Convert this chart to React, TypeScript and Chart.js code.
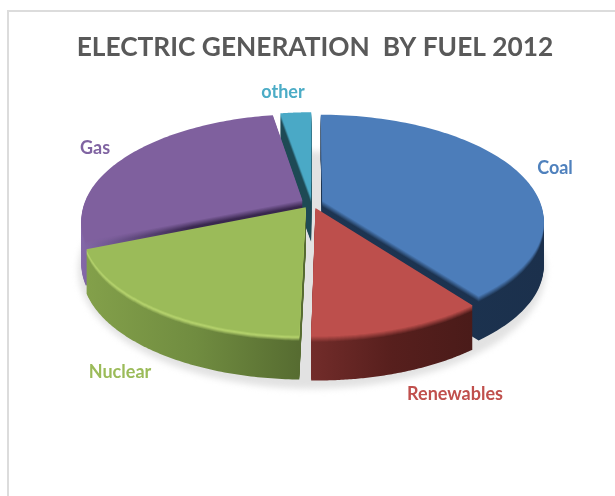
import React, { useEffect, useRef } from "react";
import { Chart, registerables } from "chart.js";

Chart.register(...registerables);

const categories = ["Coal", "Renewables", "Nuclear", "Gas", "other"];
const shares = [39.6, 10.7, 18.6, 28.4, 2.7];

const faceColors = ["#4c7dba", "#bd4f4c", "#9bbb59", "#7f609e", "#4aa9c6"];
const labelColors = ["#4f81bd", "#c0504d", "#9bbb59", "#8064a2", "#4bacc6"];
// Side wall colours, running from the left of a slice to its right.
const wallStops = [
  ["#1d3552", "#1c3350", "#1b304c"],
  ["#722c2a", "#571f1d", "#4a1b19"],
  ["#83a04a", "#708c40", "#556a30"],
  ["#8468a8", "#3a2850", "#38264d"],
  ["#1e4a55", "#1e4a55", "#1e4a55"],
];
// Rim tone between the top face and the wall; empty means a plain fade.
const rimColors = ["", "", "#b8d56f", "", ""];
// Painted from the back of the pie to the front.
const paintOrder = [4, 3, 0, 2, 1];

const labelPlaces = [
  { x: 555, y: 168 },
  { x: 455, y: 394 },
  { x: 120, y: 372 },
  { x: 95, y: 148 },
  { x: 283, y: 92 },
];

const CENTER_X = 312;
const CENTER_Y = 203;
const RADIUS_X = 218;
const RADIUS_Y = 103;
const PERSPECTIVE = 0.183;
const DEPTH = 44;
const RIM = 6;
const EXPLODE_SCALE = 0.0072;

type Pt = [number, number];

const project = (u: number, v: number): Pt => {
  const k = 1 / (1 - PERSPECTIVE * v);
  return [CENTER_X + RADIUS_X * u * k, CENTER_Y + RADIUS_Y * v * k];
};

const parse = (hex: string) => [1, 3, 5].map((i) => parseInt(hex.slice(i, i + 2), 16));
const mix = (a: string, b: string, t: number) => {
  const pa = parse(a);
  const pb = parse(b);
  const to = (c: number) => Math.round(c).toString(16).padStart(2, "0");
  return "#" + pa.map((c, i) => to(c + (pb[i] - c) * t)).join("");
};

const tracePath = (ctx: CanvasRenderingContext2D, pts: Pt[], dy: number) => {
  ctx.beginPath();
  pts.forEach(([x, y], i) => (i ? ctx.lineTo(x, y + dy) : ctx.moveTo(x, y + dy)));
  ctx.closePath();
};

const pie3d = {
  id: "pie3d",
  beforeDatasetsDraw(chart: Chart) {
    const ctx = chart.ctx;
    const arcs = chart.getDatasetMeta(0).data as any[];

    // Soft ground shadow under the whole pie.
    const ground: Pt[] = [];
    for (let i = 0; i < 120; i++) {
      const a = (i / 120) * Math.PI * 2;
      ground.push(project(1.05 * Math.cos(a), 1.105 * Math.sin(a)));
    }
    ctx.save();
    ctx.filter = "blur(3px)";
    ctx.fillStyle = "#e2e2e2";
    tracePath(ctx, ground, 43);
    ctx.fill();
    ctx.restore();

    paintOrder.forEach((index) => {
      const arc = arcs[index];
      const { startAngle, endAngle } = arc.getProps(["startAngle", "endAngle"], true);
      const mid = (startAngle + endAngle) / 2;
      const e = arc.options.offset * EXPLODE_SCALE;
      const ox = e * Math.cos(mid);
      const oy = e * Math.sin(mid);
      const pts: Pt[] = [project(ox, oy)];
      const steps = 90;
      for (let i = 0; i <= steps; i++) {
        const a = startAngle + ((endAngle - startAngle) * i) / steps;
        pts.push(project(ox + Math.cos(a), oy + Math.sin(a)));
      }
      const xs = pts.map((p) => p[0]);
      const left = Math.min(...xs);
      const right = Math.max(...xs);
      const stops = wallStops[index];
      const face = faceColors[index];
      const rim = rimColors[index];

      for (let z = DEPTH; z >= 1; z--) {
        const g = ctx.createLinearGradient(left, 0, right, 0);
        stops.forEach((stop, i) => {
          let color = stop;
          if (z <= RIM) {
            const t = z / RIM;
            if (rim) color = t < 0.4 ? mix(face, rim, t / 0.4) : mix(rim, stop, (t - 0.4) / 0.6);
            else color = mix(face, stop, t);
          }
          g.addColorStop(i / (stops.length - 1), color);
        });
        ctx.fillStyle = g;
        tracePath(ctx, pts, z);
        ctx.fill();
      }
      ctx.fillStyle = face;
      tracePath(ctx, pts, 0);
      ctx.fill();
    });
    return false;
  },
  afterDraw(chart: Chart) {
    const ctx = chart.ctx;
    ctx.save();
    ctx.font = "bold 18px Lato";
    ctx.textAlign = "center";
    ctx.textBaseline = "middle";
    categories.forEach((name, i) => {
      ctx.fillStyle = labelColors[i];
      ctx.fillText(name, labelPlaces[i].x, labelPlaces[i].y);
    });
    ctx.restore();
  },
};

export default function App() {
  const ref = useRef<HTMLCanvasElement>(null);
  useEffect(() => {
    const chart = new Chart(ref.current!, {
      type: "pie",
      data: {
        labels: categories,
        datasets: [{ data: shares, backgroundColor: faceColors, borderWidth: 0, offset: 7 }],
      },
      options: {
        responsive: false,
        animation: false,
        layout: { padding: { left: 15, top: 4 } },
        plugins: {
          legend: { display: false },
          tooltip: { enabled: false },
          title: {
            display: true,
            fullSize: false,
            text: "ELECTRIC GENERATION  BY FUEL 2012",
            color: "#595959",
            font: { family: "Lato", size: 26.3, weight: "bold" },
            padding: { top: 28, bottom: 10 },
          },
        },
      },
      plugins: [pie3d],
    });
    return () => chart.destroy();
  }, []);
  return (
    <div style={{ position: "absolute", left: 0, top: 0, width: 615, height: 496, overflow: "hidden", background: "#fff" }}>
      <div style={{ position: "absolute", left: 7, top: 10, width: 700, height: 600, border: "2px solid #dcdcdc" }} />
      <canvas ref={ref} width={615} height={496} style={{ position: "absolute", left: 0, top: 0, display: "block" }} />
    </div>
  );
}
